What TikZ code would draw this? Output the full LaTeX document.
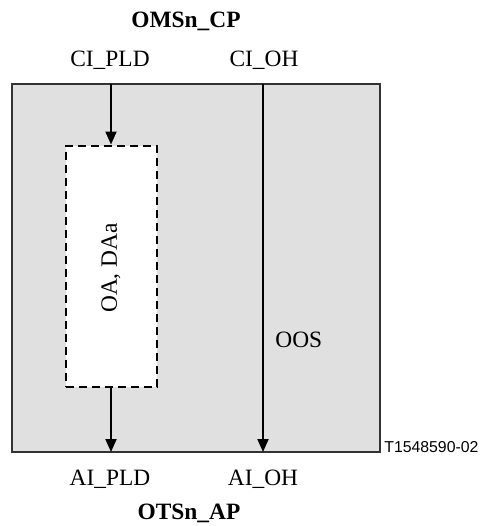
\documentclass[tikz,border=0pt]{standalone}
\usepackage{fontspec}
\setmainfont{Liberation Serif}
\newfontfamily\arialfont{Liberation Sans}
\usetikzlibrary{arrows.meta}
\begin{document}
\begin{tikzpicture}[x=0.5pt,y=-0.5pt,
  txt/.style={inner sep=0pt,font=\fontsize{11.7}{14}\selectfont},
  btxt/.style={inner sep=0pt,font=\fontsize{11.7}{14}\selectfont\bfseries},
  outerbox/.style={draw=black!80,line width=0.7pt,fill=black!12,minimum width=184pt,minimum height=184pt,inner sep=0pt},
  dashbox/.style={draw=black,line width=1pt,dash pattern=on 4pt off 2.5pt,fill=white,minimum width=45.5pt,minimum height=120.5pt,inner sep=0pt},
  arr/.style={line width=1pt,-{Triangle[length=6.5pt,width=5.5pt]}},
  tag/.style={inner sep=0pt,anchor=west,font=\arialfont\fontsize{7.9}{10}\selectfont}]
\useasboundingbox (0,0) rectangle (481,526);
\node[outerbox] (main) at (196,268) {};
\node[dashbox] (oa) at (111.5,266) {};
\node[txt,rotate=90] (oatxt) at (111,268) {OA, DAa};
\node[btxt] (omsn) at (186,21) {OMSn\_CP};
\node[txt] (cipld) at (110,60) {CI\_PLD};
\node[txt] (cioh) at (264,60) {CI\_OH};
\node[txt] (aipld) at (110,479) {AI\_PLD};
\node[txt] (aioh) at (263,479) {AI\_OH};
\node[btxt] (otsn) at (189,513) {OTSn\_AP};
\node[txt,anchor=west] (oos) at (275,340) {OOS};
\node[tag] (tag) at (384,447) {T1548590-02};
\coordinate (pldtop) at (111,84);
\coordinate (pldbot) at (111,452);
\coordinate (ohtop) at (263,84);
\coordinate (ohbot) at (263,452);
\draw[arr] (pldtop) -- (pldtop |- oa.north);
\draw[arr] (pldbot |- oa.south) -- (pldbot);
\draw[arr] (ohtop) -- (ohbot);
\end{tikzpicture}
\end{document}
